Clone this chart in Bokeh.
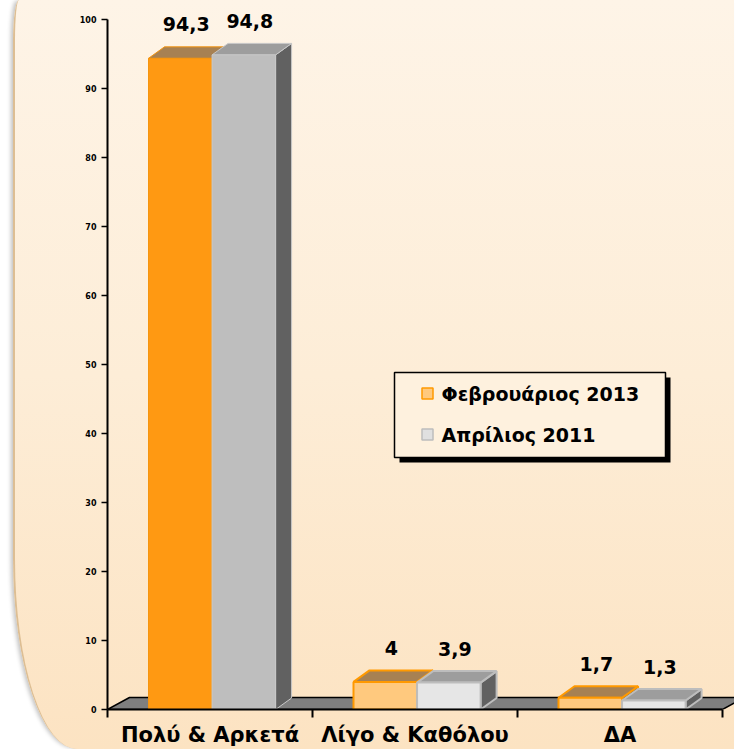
import numpy as np
from bokeh.plotting import figure
from bokeh.models import Range1d, FixedTicker
from bokeh.core.properties import value
from bokeh.embed import file_html
from bokeh.resources import INLINE

# ---------------- data ----------------
categories = ["Πολύ & Αρκετά", "Λίγο & Καθόλου", "ΔΑ"]
series_names = ["Φεβρουάριος 2013", "Απρίλιος 2011"]
values_feb_2013 = [94.3, 4.0, 1.7]
values_apr_2011 = [94.8, 3.9, 1.3]
y_tick_values = [0, 10, 20, 30, 40, 50, 60, 70, 80, 90, 100]

series_values = [values_feb_2013, values_apr_2011]

# ---------------- layout (page pixels) ----------------
PAGE_W, PAGE_H = 736, 749
HOST_SHIFT = 15            # 13px margin + 2px border of the rounded panel
W, H = PAGE_W - HOST_SHIFT, PAGE_H
AXIS_X = 107               # page x of the y axis
AXIS_Y = 709               # page y of the x axis
FRAME_LEFT = AXIS_X - HOST_SHIFT
BOTTOM_BORDER = H - AXIS_Y
FRAME_H = AXIS_Y
PX_PER_CAT = 205.0
PX_PER_UNIT = 6.905
N = len(categories)

x_end = (W - FRAME_LEFT) / PX_PER_CAT
y_end = FRAME_H / PX_PER_UNIT


def dx(px):
    return px / PX_PER_CAT


def dy(px):
    return px / PX_PER_UNIT


def fx(page_x):
    return (page_x - AXIS_X) / PX_PER_CAT


def fy(page_y):
    return (AXIS_Y - page_y) / PX_PER_UNIT


FONT = "DejaVu Sans"

p = figure(width=W, height=H, x_range=Range1d(0, x_end), y_range=Range1d(0, y_end),
           output_backend="svg", toolbar_location=None,
           min_border_left=FRAME_LEFT, min_border_right=0,
           min_border_top=0, min_border_bottom=BOTTOM_BORDER)
p.background_fill_color = None
p.border_fill_color = None
p.outline_line_color = None
p.xgrid.visible = False
p.ygrid.visible = False
p.styles = {
    "background": "linear-gradient(to bottom, #FEF4E7 0%, #FDEDD7 50%, #FCE3C2 100%)",
    "margin-left": "13px",
    "border-left": "2px solid #DDBE93",
    "border-top-left-radius": "6px 40px",
    "border-bottom-left-radius": "64px 190px",
    "box-shadow": "-3px 0 4px -1px rgba(0,0,0,0.25)",
}

# ---------------- floor ----------------
FLOOR_DX = dx(22)
FLOOR_DY = dy(12)
p.patch([0, N, N + FLOOR_DX, FLOOR_DX], [0, 0, FLOOR_DY, FLOOR_DY],
        fill_color="#7F7F7F", line_color="black", line_width=1.5)

# ---------------- 3D bars ----------------
BAR_OFFSET = [0.2, 0.51]
BAR_W = 0.31
DX = dx(16)
DY = dy(11.5)
front_fill = [["#FF9912", "#FFC97E", "#FFC97E"], ["#BEBEBE", "#E6E6E6", "#E6E6E6"]]
front_line = [["#F5950F", "#FF9900", "#FF9900"], ["#C8C8C8", "#BDBDBD", "#BDBDBD"]]
line_w = [1, 2, 2]
top_fill = ["#A78153", "#9D9D9D"]
side_fill = ["#8A5A10", "#616161"]

for s in range(2):
    vals = np.array(series_values[s], dtype=float)
    left = np.arange(N) + BAR_OFFSET[s]
    right = left + BAR_W
    side_xs = [[r, r + DX, r + DX, r] for r in right]
    side_ys = [[0, DY, v + DY, v] for v in vals]
    p.patches(side_xs, side_ys, fill_color=side_fill[s], line_color=front_line[s], line_width=line_w)
    top_xs = [[l, l + DX, r + DX, r] for l, r in zip(left, right)]
    top_ys = [[v, v + DY, v + DY, v] for v in vals]
    p.patches(top_xs, top_ys, fill_color=top_fill[s], line_color=front_line[s], line_width=line_w)
    p.quad(left=left, right=right, bottom=0, top=vals,
           fill_color=front_fill[s], line_color=front_line[s], line_width=line_w)
    label_text = [f"{v:g}".replace(".", ",") for v in vals]
    p.text(x=(left + right) / 2 + dx(6), y=vals + dy(34), text=label_text,
           text_font=value(FONT), text_font_style="bold", text_font_size="19px",
           text_align="center", text_baseline="middle", text_color="black")

# ---------------- legend (drawn box) ----------------
p.quad(left=fx(399), right=fx(670), top=fy(377), bottom=fy(462),
       fill_color="black", line_color=None)
p.quad(left=fx(394), right=fx(665), top=fy(372), bottom=fy(457),
       fill_color="#FEF1DE", line_color="black", line_width=1.5)
leg_y = [fy(393), fy(434)]
p.rect(x=[fx(427)] * 2, y=leg_y, width=dx(11), height=dy(11),
       fill_color=["#FFC97E", "#E0E0E0"], line_color=["#FF9900", "#BDBDBD"], line_width=1.5)
p.text(x=[fx(441)] * 2, y=leg_y, text=series_names,
       text_font=value(FONT), text_font_style="bold", text_font_size="19px",
       text_align="left", text_baseline="middle", text_color="black")

# ---------------- axes ----------------
ya = p.yaxis[0]
ya.ticker = FixedTicker(ticks=y_tick_values)
ya.bounds = (0, 100)
ya.axis_line_width = 2
ya.axis_line_color = "black"
ya.major_tick_out = 6
ya.major_tick_in = 0
ya.major_tick_line_width = 1.5
ya.minor_tick_out = 0
ya.minor_tick_in = 0
ya.major_label_text_font = FONT
ya.major_label_text_font_style = "bold"
ya.major_label_text_font_size = "8px"
ya.major_label_text_color = "black"
ya.major_label_standoff = 5

xa = p.xaxis[0]
centers = [i + 0.5 for i in range(N)]
xa.ticker = FixedTicker(ticks=centers, minor_ticks=list(range(N + 1)))
xa.major_label_overrides = {c: cat for c, cat in zip(centers, categories)}
xa.bounds = (0, N)
xa.axis_line_width = 2
xa.axis_line_color = "black"
xa.major_tick_out = 0
xa.major_tick_in = 0
xa.major_tick_line_color = None
xa.minor_tick_out = 8
xa.minor_tick_in = 0
xa.minor_tick_line_color = "black"
xa.minor_tick_line_width = 2
xa.major_label_text_font = FONT
xa.major_label_text_font_style = "bold"
xa.major_label_text_font_size = "21px"
xa.major_label_text_color = "black"
xa.major_label_standoff = 5

open("out.html", "w").write(file_html(p, INLINE))
